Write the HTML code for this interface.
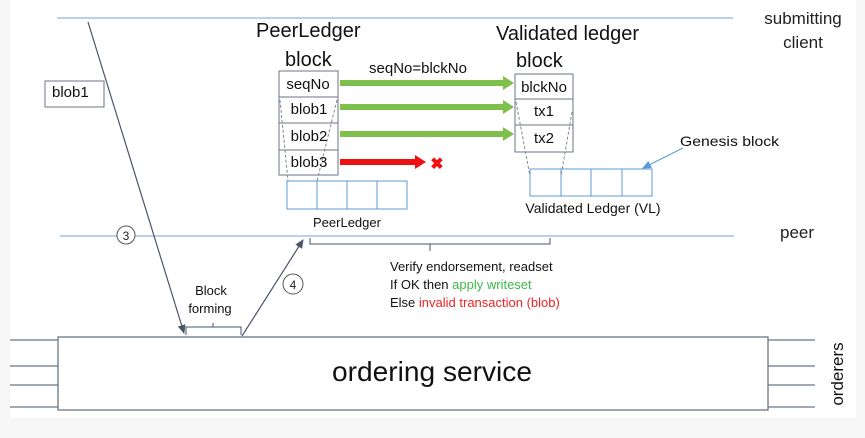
<!DOCTYPE html>
<html><head><meta charset="utf-8"><style>
html,body{margin:0;padding:0;background:#fff;}
svg{display:block;font-family:"Liberation Sans",sans-serif;}
</style></head><body>
<svg width="865" height="438" viewBox="0 0 865 438" xmlns="http://www.w3.org/2000/svg">
<defs>
<marker id="ah" markerWidth="10" markerHeight="10" refX="8" refY="5" orient="auto" markerUnits="userSpaceOnUse"><path d="M0,1 L9,5 L0,9 z" fill="#4a5568"/></marker>
<marker id="ab" markerWidth="10" markerHeight="10" refX="8" refY="5" orient="auto" markerUnits="userSpaceOnUse"><path d="M0,1 L9,5 L0,9 z" fill="#5b9bd5"/></marker>
</defs>
<rect x="0" y="0" width="865" height="438" fill="#fff"/>
<rect x="0" y="0" width="10" height="438" fill="#f6f6f6"/>
<rect x="856" y="0" width="9" height="438" fill="#f6f6f6"/>
<rect x="0" y="418" width="865" height="20" fill="#f6f6f6"/>
<line x1="57" y1="18" x2="733" y2="18" stroke="#9dc3e6" stroke-width="1.5"/>
<line x1="60" y1="236" x2="734" y2="236" stroke="#9dc3e6" stroke-width="1.5"/>
<text x="803" y="24" font-size="17" fill="#222" text-anchor="middle">submitting</text>
<text x="803" y="48" font-size="17" fill="#222" text-anchor="middle">client</text>
<text x="797" y="238" font-size="17" fill="#222" text-anchor="middle">peer</text>
<g stroke="#6b7685" stroke-width="1.3">
<line x1="10" y1="340" x2="58" y2="340"/><line x1="10" y1="366" x2="58" y2="366"/>
<line x1="10" y1="385" x2="58" y2="385"/><line x1="10" y1="407" x2="58" y2="407"/>
<line x1="768" y1="340" x2="815" y2="340"/><line x1="768" y1="366" x2="815" y2="366"/>
<line x1="768" y1="385" x2="815" y2="385"/><line x1="768" y1="407" x2="815" y2="407"/>
</g>
<rect x="58" y="337" width="710" height="73" fill="#fff" stroke="#6b7685" stroke-width="1.3"/>
<text x="432" y="381" font-size="28" fill="#111" text-anchor="middle" textLength="200" lengthAdjust="spacingAndGlyphs">ordering service</text>
<text transform="translate(843,374) rotate(-90)" font-size="17" fill="#111" text-anchor="middle">orderers</text>
<rect x="45" y="81" width="59" height="26" fill="#fff" stroke="#6b7685" stroke-width="1"/>
<text x="52" y="97" font-size="15" fill="#111">blob1</text>
<line x1="88" y1="22" x2="184" y2="333" stroke="#4a5568" stroke-width="1.2" marker-end="url(#ah)"/>
<line x1="242" y1="336" x2="303" y2="240" stroke="#4a5568" stroke-width="1.2" marker-end="url(#ah)"/>
<circle cx="126" cy="235" r="9" fill="#fff" stroke="#555" stroke-width="1"/>
<text x="126" y="240" font-size="12" text-anchor="middle" fill="#222">3</text>
<circle cx="293" cy="284" r="10" fill="#fff" stroke="#555" stroke-width="1"/>
<text x="293" y="289" font-size="12" text-anchor="middle" fill="#222">4</text>
<path d="M186,335 V327 H213 V323 M213,327 H241 V335" fill="none" stroke="#4a5568" stroke-width="1"/>
<text x="211" y="295" font-size="13" text-anchor="middle" fill="#111">Block</text>
<text x="210" y="313" font-size="13" text-anchor="middle" fill="#111">forming</text>
<text x="256" y="37" font-size="20" fill="#111">PeerLedger</text>
<text x="285" y="66" font-size="20" fill="#111">block</text>
<g stroke="#6b7685" stroke-width="1" fill="#fff">
<rect x="279" y="71" width="59" height="104"/>
<line x1="279" y1="97" x2="338" y2="97"/><line x1="279" y1="123" x2="338" y2="123"/><line x1="279" y1="150" x2="338" y2="150"/>
</g>
<g stroke="#888" stroke-width="1" stroke-dasharray="3,2">
<line x1="280" y1="100" x2="288" y2="181"/><line x1="337" y1="100" x2="317" y2="181"/>
</g>
<g font-size="15" fill="#111" text-anchor="middle">
<text x="308" y="89">seqNo</text><text x="309" y="114">blob1</text><text x="309" y="141">blob2</text><text x="309" y="167">blob3</text>
</g>
<g stroke="#5b9bd5" stroke-width="1" fill="none">
<rect x="287" y="181" width="120" height="28"/>
<line x1="317" y1="181" x2="317" y2="209"/><line x1="347" y1="181" x2="347" y2="209"/><line x1="377" y1="181" x2="377" y2="209"/>
</g>
<text x="347" y="227" font-size="13" text-anchor="middle" fill="#111">PeerLedger</text>
<g fill="#7dc04b">
<rect x="340" y="80" width="164" height="6"/><path d="M503,76 L514,83 L503,90 z"/>
<rect x="340" y="104" width="164" height="6"/><path d="M503,100 L514,107 L503,114 z"/>
<rect x="340" y="131" width="164" height="6"/><path d="M503,127 L514,134 L503,141 z"/>
</g>
<g fill="#ee1111">
<rect x="340" y="159" width="76" height="6"/><path d="M415,155 L426,162 L415,169 z"/>
</g>
<text x="437" y="169" font-size="16" font-weight="bold" fill="#ee1111" text-anchor="middle">✖</text>
<text x="418" y="73" font-size="15" text-anchor="middle" fill="#111">seqNo=blckNo</text>
<text x="496" y="40" font-size="20" fill="#111">Validated ledger</text>
<text x="516" y="67" font-size="20" fill="#111">block</text>
<g stroke="#6b7685" stroke-width="1" fill="#fff">
<rect x="515" y="74" width="58" height="78"/>
<line x1="515" y1="99" x2="573" y2="99"/><line x1="515" y1="125" x2="573" y2="125"/>
</g>
<g stroke="#888" stroke-width="1" stroke-dasharray="3,2">
<line x1="516" y1="102" x2="530" y2="176"/><line x1="572" y1="112" x2="561" y2="176"/>
</g>
<g font-size="15" fill="#111" text-anchor="middle">
<text x="544" y="92">blckNo</text><text x="544" y="116">tx1</text><text x="544" y="143">tx2</text>
</g>
<g stroke="#5b9bd5" stroke-width="1" fill="none">
<rect x="530" y="169" width="122" height="27"/>
<line x1="561" y1="169" x2="561" y2="196"/><line x1="591" y1="169" x2="591" y2="196"/><line x1="622" y1="169" x2="622" y2="196"/>
</g>
<text x="593" y="213" font-size="14" text-anchor="middle" fill="#111">Validated Ledger (VL)</text>
<text x="680" y="146" font-size="14" fill="#111" textLength="99" lengthAdjust="spacingAndGlyphs">Genesis block</text>
<line x1="683" y1="148" x2="643" y2="168" stroke="#5b9bd5" stroke-width="1" marker-end="url(#ab)"/>
<path d="M310,238 V244 H430 V251 M430,244 H550 V238" fill="none" stroke="#4a5568" stroke-width="1"/>
<g font-size="13" fill="#111">
<text x="390" y="271">Verify endorsement, readset</text>
<text x="390" y="289">If OK then <tspan fill="#3cba4b">apply writeset</tspan></text>
<text x="390" y="307">Else <tspan fill="#ee2222">invalid transaction (blob)</tspan></text>
</g>
</svg>
</body></html>
